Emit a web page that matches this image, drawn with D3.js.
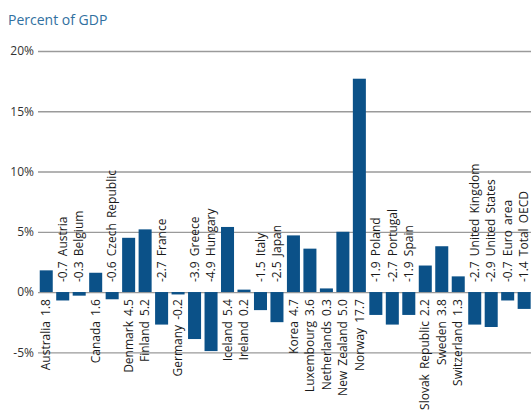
<!DOCTYPE html>
<html><head><meta charset="utf-8">
<script src="https://cdn.jsdelivr.net/npm/d3@7"></script>
<style>body{margin:0;background:#fff}svg{display:block}</style>
</head><body>
<script>
const countries = ["Australia","Austria","Belgium","Canada","Czech Republic","Denmark","Finland","France","Germany","Greece","Hungary","Iceland","Ireland","Italy","Japan","Korea","Luxembourg","Netherlands","New Zealand","Norway","Poland","Portugal","Spain","Slovak Republic","Sweden","Switzerland","United Kingdom","United States","Euro area","Total OECD"];
const values = [1.8,-0.7,-0.3,1.6,-0.6,4.5,5.2,-2.7,-0.2,-3.9,-4.9,5.4,0.2,-1.5,-2.5,4.7,3.6,0.3,5.0,17.7,-1.9,-2.7,-1.9,2.2,3.8,1.3,-2.7,-2.9,-0.7,-1.4];
const yTicks = [-5,0,5,10,15,20];
const title = "Percent of GDP";
const labelBelowExceptions = ["Germany"];

const W=531,H=413;
const svg=d3.select("body").append("svg").attr("width",W).attr("height",H);
const data=countries.map((c,i)=>({name:c,value:values[i]}));
const x=d3.scaleBand().domain(countries).range([38,532.4]).paddingInner(0.21).paddingOuter(0.105);
const y=d3.scaleLinear().domain([-5,20]).range([352.3,51]);

svg.append("text").attr("x",8).attr("y",25).attr("font-family","Open Sans, sans-serif")
  .attr("font-size",14).attr("fill","#3170a0").text(title);

const yAxis=svg.append("g").attr("transform","translate(38,0)")
  .call(d3.axisLeft(y).tickValues(yTicks).tickSize(-(W-38)).tickFormat(d=>d+"%"));
yAxis.select(".domain").remove();
yAxis.selectAll(".tick line").attr("stroke","#9a9a9a").attr("stroke-width",1.3);
yAxis.selectAll(".tick text").attr("x",-4).attr("fill","#333").attr("font-size",12)
  .attr("font-family","Open Sans, sans-serif").text(d=>(d<0?"-"+Math.abs(d):d)+"%");

svg.append("g").selectAll("rect").data(data).join("rect")
  .attr("x",d=>x(d.name)).attr("width",x.bandwidth())
  .attr("y",d=>y(Math.max(0,d.value))).attr("height",d=>Math.abs(y(d.value)-y(0)))
  .attr("fill","#0b5188");

const fmt=v=>v.toFixed(1);
svg.append("g").selectAll("text").data(data).join("text")
  .each(function(d){
    const below = d.value>=0 || labelBelowExceptions.includes(d.name);
    const cx = x(d.name)+x.bandwidth()/2;
    const t=d3.select(this);
    if(below){
      t.attr("transform",`translate(${cx},${y(0)+7}) rotate(-90)`).attr("text-anchor","end")
       .text(d.name+" "+fmt(d.value));
    } else {
      t.attr("transform",`translate(${cx},${y(0)-10}) rotate(-90)`).attr("text-anchor","start")
       .text(fmt(d.value)+" "+d.name);
    }
  })
  .attr("dy","0.35em").attr("font-family","Open Sans, sans-serif").attr("font-size",12)
  .attr("word-spacing",2).attr("fill","#1a1a1a");
</script>
</body></html>
